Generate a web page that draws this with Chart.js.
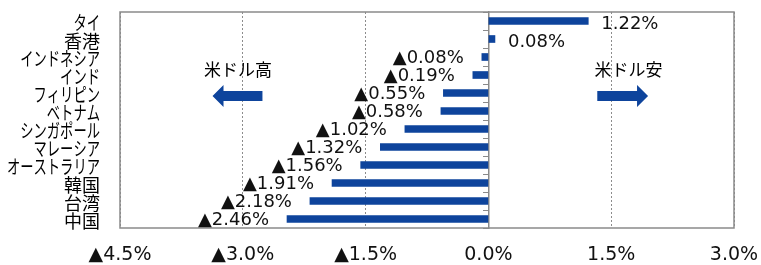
<!DOCTYPE html>
<html>
<head>
<meta charset="utf-8">
<script src="https://cdn.jsdelivr.net/npm/chart.js@4/dist/chart.umd.min.js"></script>
<style>
  html, body { margin: 0; padding: 0; overflow: hidden; background: #fff; }
  #wrap { width: 761px; height: 280px; position: relative; }
</style>
</head>
<body>
<div id="wrap"><canvas id="fxchart"></canvas></div>
<script>
// data
const countries = ["タイ", "香港", "インドネシア", "インド", "フィリピン", "ベトナム", "シンガポール", "マレーシア", "オーストラリア", "韓国", "台湾", "中国"];
const changes = [1.22, 0.08, -0.08, -0.19, -0.55, -0.58, -1.02, -1.32, -1.56, -1.91, -2.18, -2.46];
const xTicks = [-4.5, -3.0, -1.5, 0, 1.5, 3.0];

const barBlue = "#0e449c";
const frameGray = "#8a8a8a";
const numFont = '"DejaVu Sans", Verdana, sans-serif';
const jpFont = '"Noto Sans CJK JP", sans-serif';

// negative values shown with ▲ in Japanese style
function fmtPct(v, digits) {
    const s = Math.abs(v).toFixed(digits) + "%";
    return v < 0 ? "▲" + s : s;
}

// category names on the left, kana squeezed a bit like the original
const categoryLabels = {
    id: "categoryLabels",
    afterDraw(chart) {
        const ctx = chart.ctx;
        const yScale = chart.scales.y;
        ctx.save();
        ctx.fillStyle = "#000";
        ctx.textAlign = "right";
        ctx.textBaseline = "middle";
        countries.forEach((name, i) => {
            const y = yScale.getPixelForValue(i) + 2;
            const kana = /[\u30A0-\u30FF]/.test(name);
            ctx.font = (kana ? "19px " : "18px ") + jpFont;
            ctx.save();
            ctx.translate(100, y);
            ctx.scale(kana ? 0.7 : 1, 1);
            ctx.fillText(name, 0, 0);
            ctx.restore();
        });
        ctx.restore();
    }
};

// value labels next to each bar
const valueLabels = {
    id: "valueLabels",
    afterDatasetsDraw(chart) {
        const ctx = chart.ctx;
        const meta = chart.getDatasetMeta(0);
        ctx.save();
        ctx.fillStyle = "#111";
        ctx.font = "18px " + numFont;
        ctx.textBaseline = "middle";
        meta.data.forEach((bar, i) => {
            const v = changes[i];
            if (v < 0) {
                ctx.textAlign = "right";
                ctx.fillText(fmtPct(v, 2), bar.x - 18, bar.y + 1);
            } else {
                ctx.textAlign = "left";
                ctx.fillText(fmtPct(v, 2), bar.x + 13, bar.y + 3);
            }
        });
        ctx.restore();
    }
};

// plot frame + the two direction notes with arrows
const frameAndNotes = {
    id: "frameAndNotes",
    beforeDatasetsDraw(chart) {
        const ctx = chart.ctx;
        const a = chart.chartArea;
        ctx.save();
        ctx.strokeStyle = frameGray;
        ctx.lineWidth = 1.5;
        ctx.strokeRect(a.left, a.top, a.right - a.left, a.bottom - a.top);
        ctx.restore();
    },
    afterDraw(chart) {
        const ctx = chart.ctx;
        const x = chart.scales.x;
        const top = chart.chartArea.top;

        function arrow(tail, tip, y) {
            const dir = tip > tail ? 1 : -1;
            const headStart = tip - dir * 11;
            ctx.beginPath();
            ctx.moveTo(tail, y - 5);
            ctx.lineTo(headStart, y - 5);
            ctx.lineTo(headStart, y - 11);
            ctx.lineTo(tip, y);
            ctx.lineTo(headStart, y + 11);
            ctx.lineTo(headStart, y + 5);
            ctx.lineTo(tail, y + 5);
            ctx.closePath();
            ctx.fill();
        }

        ctx.save();
        ctx.fillStyle = barBlue;
        arrow(x.getPixelForValue(-2.76), x.getPixelForValue(-3.37), top + 84);
        arrow(x.getPixelForValue(1.33), x.getPixelForValue(1.95), top + 84);

        ctx.fillStyle = "#000";
        ctx.font = "17px " + jpFont;
        ctx.textAlign = "center";
        ctx.textBaseline = "middle";
        ctx.fillText("米ドル高", x.getPixelForValue(-3.06), top + 58);
        ctx.fillText("米ドル安", x.getPixelForValue(1.71), top + 58);
        ctx.restore();
    }
};

new Chart(document.getElementById("fxchart"), {
    type: "bar",
    data: {
        labels: countries,
        datasets: [{
            data: changes,
            backgroundColor: barBlue,
            barThickness: 7,
            borderWidth: 0
        }]
    },
    options: {
        indexAxis: "y",
        responsive: true,
        maintainAspectRatio: false,
        animation: false,
        events: [],
        layout: {
            padding: { left: 120, right: 27, top: 12, bottom: 0 }
        },
        plugins: {
            legend: { display: false },
            tooltip: { enabled: false }
        },
        scales: {
            x: {
                min: -4.5,
                max: 3.0,
                afterBuildTicks: (scale) => {
                    scale.ticks = xTicks.map(v => ({ value: v }));
                },
                afterFit: (scale) => { scale.height = 52; },
                grid: {
                    color: "#8c8c8c",
                    lineWidth: 1,
                    drawTicks: true,
                    tickLength: 16,
                    tickColor: "rgba(0,0,0,0)"
                },
                border: { display: false, dash: [2, 2] },
                ticks: {
                    padding: 0,
                    color: "#111",
                    font: { family: numFont, size: 19 },
                    callback: (v) => fmtPct(v, 1)
                }
            },
            y: {
                position: { x: 0 },
                grid: {
                    offset: true,
                    drawOnChartArea: false,
                    tickLength: 5,
                    tickColor: frameGray,
                    color: frameGray
                },
                border: { color: frameGray, width: 1.5 },
                ticks: { display: false }
            }
        }
    },
    plugins: [frameAndNotes, valueLabels, categoryLabels]
});
</script>
</body>
</html>
